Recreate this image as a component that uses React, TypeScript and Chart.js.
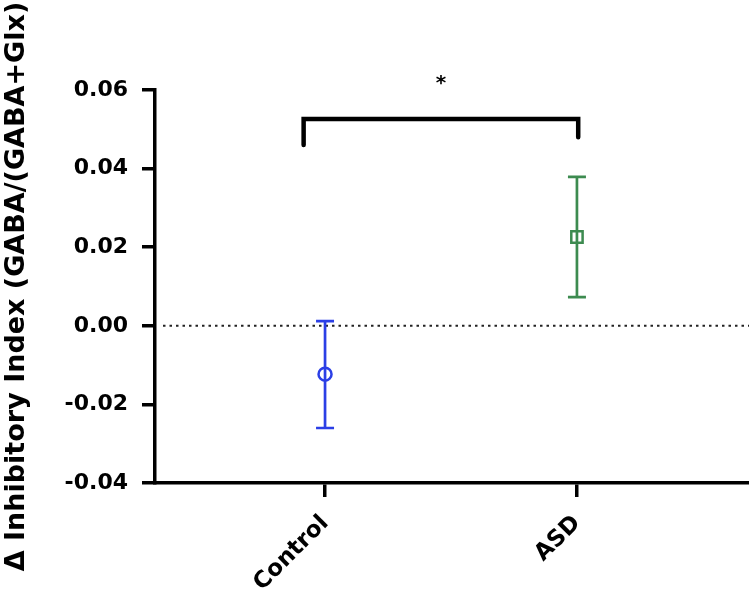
import React, { useEffect, useRef } from 'react';
import { Chart, registerables } from 'chart.js';
Chart.register(...registerables);

const categories = ['Control', 'ASD'];
const means = [-0.0123, 0.0226];
const upper = [0.0012, 0.0379];
const lower = [-0.026, 0.0073];
const colors = ['#2b3fe6', '#3d8b50'];
const pointStyles = ['circle', 'rect'];
const yTicks = [-0.04, -0.02, 0, 0.02, 0.04, 0.06];
const bracketX = [-0.085, 1.005];
const bracketY = [0.046, 0.0526, 0.048];
const starPos = [0.46, 0.0625];
const refLine = 0;
const yTitle = 'Δ Inhibitory Index (GABA/(GABA+Glx)';

const FONT = '"DejaVu Sans", sans-serif';

const overlay = {
  id: 'overlay',
  beforeDatasetsDraw(chart: any) {
    const { ctx, scales, chartArea } = chart;
    const y = scales.y;
    const y0 = y.getPixelForValue(refLine);
    ctx.save();
    ctx.setLineDash([2.5, 4]);
    ctx.lineWidth = 2;
    ctx.strokeStyle = '#222';
    ctx.beginPath();
    ctx.moveTo(chartArea.left + 8, y0);
    ctx.lineTo(chartArea.right, y0);
    ctx.stroke();
    ctx.restore();
  },
  afterDatasetsDraw(chart: any) {
    const { ctx, scales } = chart;
    const x = scales.x;
    const y = scales.y;
    ctx.save();
    categories.forEach((_, i) => {
      const px = x.getPixelForValue(i);
      const pu = y.getPixelForValue(upper[i]);
      const pl = y.getPixelForValue(lower[i]);
      ctx.strokeStyle = colors[i];
      ctx.lineWidth = 2.7;
      ctx.beginPath();
      ctx.moveTo(px, pu);
      ctx.lineTo(px, pl);
      ctx.moveTo(px - 9, pu);
      ctx.lineTo(px + 9, pu);
      ctx.moveTo(px - 9, pl);
      ctx.lineTo(px + 9, pl);
      ctx.stroke();
    });
    ctx.strokeStyle = '#000';
    ctx.lineWidth = 4.5;
    ctx.lineCap = 'round';
    ctx.lineJoin = 'miter';
    ctx.beginPath();
    ctx.moveTo(x.getPixelForValue(bracketX[0]), y.getPixelForValue(bracketY[0]));
    ctx.lineTo(x.getPixelForValue(bracketX[0]), y.getPixelForValue(bracketY[1]));
    ctx.lineTo(x.getPixelForValue(bracketX[1]), y.getPixelForValue(bracketY[1]));
    ctx.lineTo(x.getPixelForValue(bracketX[1]), y.getPixelForValue(bracketY[2]));
    ctx.stroke();
    ctx.fillStyle = '#000';
    ctx.font = 'bold 20px ' + FONT;
    ctx.textAlign = 'center';
    ctx.textBaseline = 'middle';
    ctx.fillText('*', x.getPixelForValue(starPos[0]), y.getPixelForValue(starPos[1]) + 4);
    ctx.restore();
  },
};

export default function App() {
  const ref = useRef<HTMLCanvasElement>(null);
  useEffect(() => {
    document.body.style.margin = '0';
    const datasets = categories.map((c, i) => ({
      label: c,
      data: [{ x: i, y: means[i] }],
      pointStyle: pointStyles[i],
      pointRadius: pointStyles[i] === 'rect' ? 8 : 6.5,
      borderWidth: 2.5,
      borderColor: colors[i],
      backgroundColor: 'rgba(0,0,0,0)',
      showLine: false,
    }));
    const chart = new Chart(ref.current!, {
      type: 'scatter',
      data: { datasets: datasets as any },
      plugins: [overlay],
      options: {
        animation: false,
        responsive: false,
        layout: { autoPadding: false, padding: { top: 90, right: 0, bottom: 0, left: 0 } },
        plugins: { legend: { display: false }, tooltip: { enabled: false } },
        scales: {
          x: {
            type: 'linear',
            min: -0.675,
            max: 1.683,
            afterBuildTicks: (s: any) => {
              s.ticks = categories.map((_, i) => ({ value: i }));
            },
            afterFit: (s: any) => {
              s.height = 115;
            },
            ticks: {
              autoSkip: false,
              minRotation: 45,
              maxRotation: 45,
              padding: 13,
              color: '#000',
              font: { family: FONT, weight: 'bold', size: 23 },
              callback: (v: any) => categories[v] ?? '',
            },
            grid: { drawOnChartArea: false, color: '#000', lineWidth: 3.5, tickLength: 14 },
            border: { color: '#000', width: 3.5 },
          },
          y: {
            min: -0.04,
            max: 0.06,
            afterBuildTicks: (s: any) => {
              s.ticks = yTicks.map((v) => ({ value: v }));
            },
            afterFit: (s: any) => {
              s.width = 155;
            },
            ticks: {
              padding: 14,
              color: '#000',
              font: { family: FONT, weight: 'bold', size: 22 },
              callback: (v: any) => Number(v).toFixed(2),
            },
            grid: { drawOnChartArea: false, color: '#000', lineWidth: 3.5, tickLength: 13 },
            border: { color: '#000', width: 3.5 },
            title: {
              display: true,
              text: yTitle,
              color: '#000',
              font: { family: FONT, weight: 'bold', size: 27 },
              padding: { top: 1, bottom: 0 },
            },
          },
        },
      },
    });
    return () => chart.destroy();
  }, []);
  return <canvas ref={ref} width={749} height={598} style={{ display: 'block' }} />;
}
